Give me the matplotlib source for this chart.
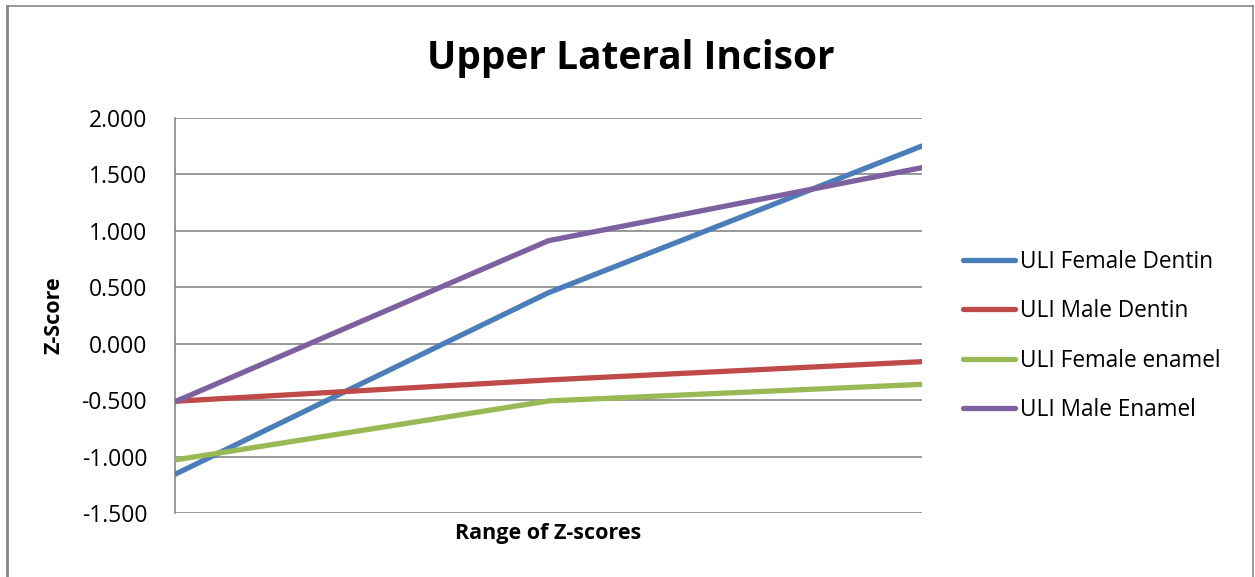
import matplotlib
matplotlib.use("Agg")
import matplotlib.pyplot as plt
from matplotlib.lines import Line2D

plt.rcParams['font.family'] = ['Open Sans', 'DejaVu Sans']

# Data
points = [0, 1, 2]
series_names = ["ULI Female Dentin", "ULI Male Dentin", "ULI Female enamel", "ULI Male Enamel"]
female_dentin = [-1.157, 0.452, 1.752]
male_dentin = [-0.510, -0.321, -0.159]
female_enamel = [-1.030, -0.507, -0.360]
male_enamel = [-0.514, 0.913, 1.560]
y_ticks = [2.0, 1.5, 1.0, 0.5, 0.0, -0.5, -1.0, -1.5]

colors = ["#4A7EBB", "#BE4B48", "#98B954", "#7D60A0"]
series = [female_dentin, male_dentin, female_enamel, male_enamel]

fig = plt.figure(figsize=(12.55, 5.77), dpi=100)
ax = fig.add_axes([175/1255, 1-513/577, (922-175)/1255, (513-118)/577])

grid_c = "#868686"
for t in y_ticks:
    ax.axhline(t, color=grid_c, lw=1.2, zorder=1)

for vals, c, name in zip(series, colors, series_names):
    ax.plot(points, vals, color=c, lw=3.8, solid_capstyle='round', label=name, zorder=3)

ax.set_xlim(0, 2)
ax.set_ylim(-1.5, 2.0)
ax.set_yticks(y_ticks)
ax.set_yticklabels([f"{t:.3f}" for t in y_ticks], fontsize=16.5)
ax.set_xticks([])
ax.tick_params(axis='y', length=0, pad=20)
for s in ["top", "right", "bottom"]:
    ax.spines[s].set_visible(False)
ax.spines["left"].set_color(grid_c)
ax.spines["left"].set_linewidth(1.2)

ax.set_xlabel("Range of Z-scores", fontsize=15.5, fontweight='bold', labelpad=7)
ax.set_ylabel("Z-Score", fontsize=15.5, fontweight='bold', labelpad=12)

fig.text(631/1255, 1-58/577, "Upper Lateral Incisor", fontsize=28, fontweight='bold',
         ha='center', va='center')

handles = [Line2D([0], [0], color=c, lw=3.8, solid_capstyle='round') for c in colors]
fig.legend(handles, series_names, loc='center left', bbox_to_anchor=(943/1255, 1-336/577),
           frameon=False, fontsize=16.3, handlelength=2.3, handletextpad=0.2,
           labelspacing=1.12)

# Chart frame
fig.add_artist(Line2D([7/1255, 7/1255], [0, 1-6/577], transform=fig.transFigure,
                      color=grid_c, lw=2))
fig.add_artist(Line2D([7/1255, 1253/1255], [1-6/577, 1-6/577], transform=fig.transFigure,
                      color=grid_c, lw=1.2))
fig.add_artist(Line2D([1253/1255, 1253/1255], [0, 1-6/577], transform=fig.transFigure,
                      color=grid_c, lw=1.2))

fig.savefig("out.png", dpi=100)
